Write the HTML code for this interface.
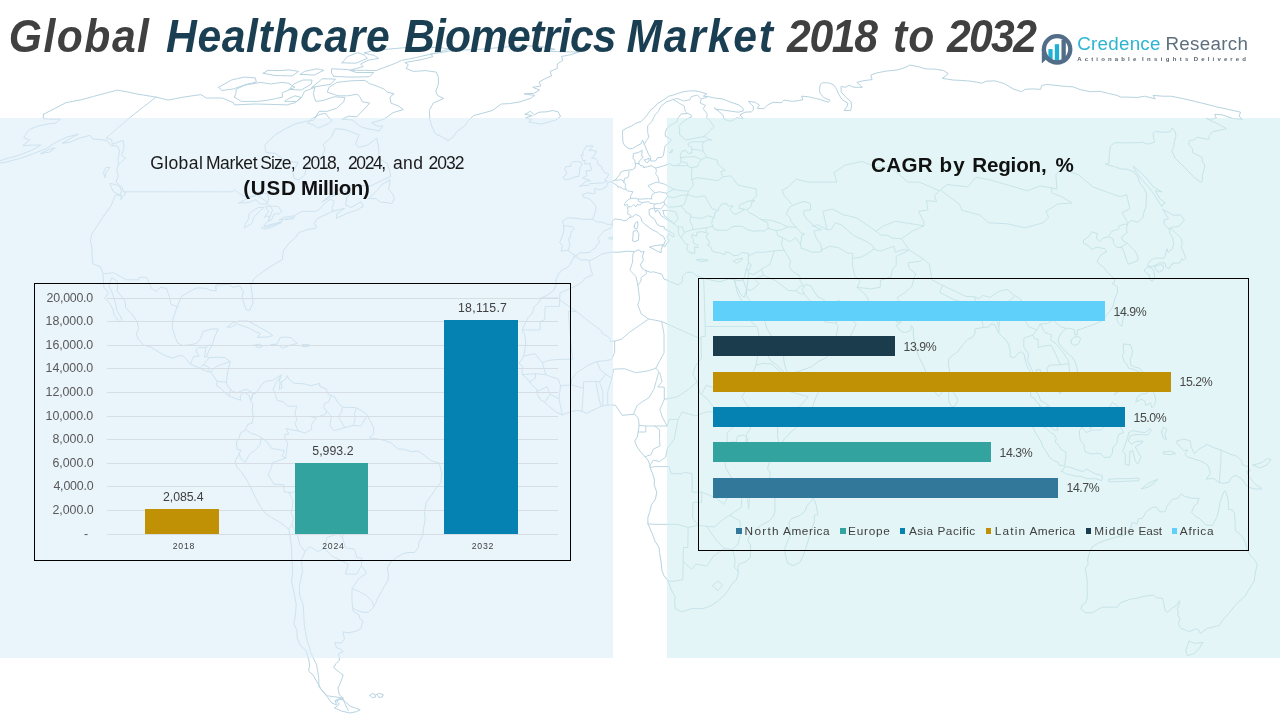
<!DOCTYPE html>
<html lang="en">
<head>
<meta charset="utf-8">
<title>Global Healthcare Biometrics Market 2018 to 2032</title>
<style>
html,body{margin:0;padding:0;}
body{width:1280px;height:720px;position:relative;overflow:hidden;background:#fff;font-family:"Liberation Sans",sans-serif;color:#404040;}
.abs{position:absolute;}
.panel{position:absolute;top:117.5px;height:540.8px;}
#pl{left:0;width:613px;background:rgba(220,237,248,.6);}
#pr{left:667px;width:613px;background:rgba(208,238,240,.6);}
.w{position:absolute;white-space:nowrap;display:block;}
.box{position:absolute;border:1.15px solid #000;box-sizing:border-box;}
.grid{position:absolute;left:107px;width:451px;height:1px;background:#d7dee3;}
.bar{position:absolute;}
.sq{position:absolute;width:5.6px;height:5.6px;top:528.4px;}
#map{position:absolute;left:0;top:0;}
</style>
</head>
<body>

<svg id="map" width="1280" height="720" viewBox="0 0 1280 720" fill="none" stroke-linejoin="round" stroke-linecap="round"><path d="M43.5 114.3 65.9 102.7 73.8 101.2 81.7 99.7 93.5 96.4 105.5 93.2 117.5 90.1 122.9 91.1 128.4 92.1 133.1 93.2 137.8 94.2 143.8 95.1 149.8 96.1 156.0 97.1 162.1 98.6 168.3 100.1 174.7 98.8 181.1 97.5 191.0 96.0 200.8 94.6 203.5 96.2 206.3 98.0 214.3 98.0 222.4 98.0 227.8 100.3 233.4 102.7 234.4 104.9 241.2 104.6 248.1 104.3 254.9 104.0 262.8 104.2 270.8 104.4 278.8 104.6 286.7 104.9 295.2 102.7 301.5 97.5 304.5 91.3 315.0 87.3 313.4 93.4 314.3 97.5 315.8 101.4 323.0 100.6 334.3 96.7 339.5 97.1 344.8 97.5 343.7 101.8 336.4 108.3 327.4 111.3 319.1 111.3 313.9 120.1 306.1 121.4 295.8 123.7 284.7 129.1 274.8 135.0 264.7 145.1 266.2 152.6 275.7 153.5 281.7 158.2 288.7 161.5 298.1 162.4 292.8 172.5 294.1 178.2 298.8 180.1 304.7 174.9 306.9 165.3 322.4 155.8 325.2 148.8 323.1 144.6 331.3 137.2 335.3 128.7 340.2 129.1 345.1 129.6 349.3 131.1 353.5 132.7 359.1 135.0 355.5 144.2 359.1 147.4 367.6 145.1 376.6 138.1 378.7 147.9 379.1 158.2 383.2 161.0 387.5 163.8 389.4 170.1 390.7 176.3 382.7 180.1 370.7 185.9 364.0 185.7 357.4 185.4 351.5 185.7 345.7 185.9 334.0 192.8 321.6 202.1 331.6 196.7 338.5 194.0 345.4 191.3 351.1 192.8 346.8 197.7 345.6 205.0 351.0 207.5 361.1 201.6 363.2 206.5 357.2 209.9 346.9 213.4 336.4 218.3 336.7 213.9 344.7 208.4 333.8 210.9 324.2 215.3 317.9 218.3 314.1 223.3 316.3 226.3 315.5 228.3 309.1 229.2 298.4 232.7 295.4 237.7 289.1 243.2 283.4 250.7 282.2 259.7 276.2 263.2 270.2 266.8 263.5 271.3 254.4 278.3 250.7 285.3 252.4 295.4 253.0 302.9 249.7 310.4 246.3 309.9 244.7 305.4 242.1 297.4 243.4 291.4 239.5 285.8 232.7 287.3 229.3 284.3 220.6 284.8 215.8 285.3 216.1 290.9 210.7 290.4 205.6 288.3 197.2 287.8 191.5 290.4 181.5 296.4 177.3 306.4 173.0 319.0 172.3 327.5 175.4 337.6 177.7 343.1 183.0 345.6 189.7 344.6 196.4 343.6 200.6 338.6 203.0 331.5 211.7 329.0 218.2 329.0 214.8 336.6 212.3 345.1 209.6 349.1 206.4 356.6 209.8 357.7 218.6 357.2 225.1 357.7 230.3 361.7 227.7 371.7 226.3 381.8 228.1 386.8 232.3 391.3 237.5 392.8 242.5 390.3 246.5 389.3 253.4 393.3 250.8 400.8 248.9 395.3 244.2 392.3 240.0 395.8 240.7 400.3 235.0 398.3 229.4 395.8 226.0 393.8 220.9 388.3 216.7 385.8 217.1 381.3 210.9 372.2 204.9 370.7 198.5 367.7 190.5 364.2 183.6 356.1 179.3 355.6 172.4 358.2 164.1 355.1 158.0 351.6 150.8 347.1 143.7 345.1 138.1 339.1 136.3 334.0 138.7 328.5 137.0 321.5 131.9 314.0 125.6 307.9 125.2 301.4 121.5 296.4 117.3 291.4 117.6 281.3 111.7 277.8 108.9 285.3 112.7 293.9 115.3 302.9 117.3 311.4 120.6 316.5 122.0 320.5 119.5 322.0 114.3 315.5 112.8 308.9 109.0 302.4 104.7 297.9 108.7 292.9 103.9 287.3 103.3 278.8 102.9 273.3 100.4 266.8 92.8 263.7 92.0 253.7 92.1 247.7 90.4 241.2 91.7 234.2 96.9 226.3 103.4 216.3 111.2 205.5 115.5 194.7 121.5 195.7 120.8 199.6 125.8 192.8 123.8 191.8 121.7 186.9 116.1 182.1 118.3 175.8 116.7 170.1 118.6 164.3 118.0 159.1 119.6 151.2 117.5 146.0 110.8 145.6 107.4 140.9 101.0 139.5 92.7 139.0 90.0 135.4 79.6 138.1 69.6 142.3 62.1 143.2 78.3 134.1 66.6 137.2 54.3 143.2 46.1 148.8 33.5 153.5 20.7 158.2 7.1 161.9 -1.5 163.3 -10.1 164.8 4.9 159.1 18.5 155.4 31.8 150.2 40.7 145.1 32.4 145.1 22.9 145.6 29.6 140.0 23.7 137.7 26.8 132.7 29.3 129.6 38.3 126.0 49.2 123.7 55.6 123.2 60.3 119.2 53.5 119.2 48.3 119.0 43.2 118.7 43.5 114.3ZM448.2 140.4 441.0 136.3 435.2 133.6 431.7 126.0 429.8 119.2 429.3 110.5 433.2 103.1 443.8 98.4 437.4 95.4 435.9 91.3 438.4 84.0 438.4 77.1 436.3 72.1 431.1 71.4 425.8 70.6 419.6 71.0 413.4 71.4 409.7 69.9 406.1 68.4 408.3 64.7 404.9 62.5 413.5 61.0 422.0 59.5 427.6 58.0 433.1 56.5 430.3 54.2 436.9 53.1 443.4 52.1 449.9 51.0 456.3 50.0 462.6 49.9 468.9 49.8 475.2 49.7 480.9 49.2 486.7 48.7 492.4 48.2 498.0 47.7 503.7 47.2 509.3 46.7 515.6 46.4 521.9 46.1 528.1 45.8 534.0 46.2 539.8 46.6 545.7 47.0 550.4 48.2 555.1 49.4 549.3 50.3 543.5 51.2 550.6 51.4 557.6 51.6 564.7 51.8 572.1 51.9 579.4 52.1 574.2 53.6 568.8 55.1 561.4 56.5 562.9 60.3 557.3 64.0 557.2 68.4 550.2 71.4 551.6 75.9 546.5 77.9 539.1 82.0 540.9 86.0 532.7 87.3 539.6 90.1 533.8 93.4 529.0 93.6 524.1 93.8 529.4 94.6 534.7 95.4 530.7 98.4 525.3 100.1 519.9 101.8 514.8 102.7 509.6 103.6 501.3 104.0 492.3 110.5 483.0 113.1 473.6 115.6 468.3 120.5 464.5 126.0 457.1 131.4 453.0 137.2 448.2 140.4ZM379.0 130.9 382.9 126.0 376.7 126.0 371.7 122.8 377.9 121.0 384.0 119.2 393.1 112.6 403.3 109.6 398.8 106.2 394.8 104.6 390.9 103.1 390.0 97.1 394.0 93.8 387.3 92.1 383.7 88.9 380.2 87.5 376.7 86.0 373.1 84.8 369.5 83.6 364.8 80.4 357.7 80.6 350.7 80.8 343.8 81.6 336.9 82.4 329.0 87.3 327.3 92.1 330.9 93.4 334.5 94.6 338.1 95.8 342.9 95.8 347.7 95.8 357.1 94.2 359.9 96.7 362.5 101.8 369.7 103.1 362.9 110.5 356.7 116.9 348.9 116.1 341.7 119.2 347.3 119.6 352.9 120.1 358.3 125.0 362.1 127.3 369.6 129.1 374.3 130.0 379.0 130.9ZM234.5 97.1 237.9 99.3 241.3 101.4 249.4 101.4 257.5 101.4 263.0 100.8 268.5 100.1 275.6 98.6 282.6 97.1 282.2 92.9 294.8 87.3 291.6 85.2 288.5 83.2 281.8 82.4 276.2 83.2 270.7 84.0 265.5 83.2 260.4 82.4 252.5 83.8 244.5 85.2 236.2 89.3 235.8 93.4 234.5 97.1ZM218.6 87.3 222.1 90.5 227.9 89.7 233.6 88.9 245.0 84.8 256.3 82.0 255.3 77.9 249.8 77.5 244.3 77.1 237.9 78.5 231.5 80.0 218.6 87.3ZM350.0 70.3 357.3 70.3 364.7 70.3 370.3 70.5 376.0 70.6 385.9 66.9 395.6 63.2 401.6 60.3 408.6 59.0 415.4 57.7 422.8 55.9 429.9 54.5 437.7 52.4 443.5 50.7 449.2 49.1 444.7 48.4 440.3 47.6 435.1 47.5 430.0 47.4 424.9 47.3 419.6 47.3 414.4 47.3 409.1 47.3 402.2 47.9 395.3 48.5 388.3 49.1 380.6 49.9 372.9 50.6 364.0 53.0 369.0 54.2 374.1 55.4 376.3 56.7 378.5 58.4 373.3 59.3 367.9 60.3 360.6 64.0 363.2 66.6 356.7 68.4 350.0 70.3ZM342.1 62.8 349.0 63.0 355.8 63.2 367.4 58.4 365.7 56.4 364.0 54.8 360.8 53.7 357.7 52.7 347.6 56.5 342.1 62.8ZM333.9 76.3 339.6 76.6 345.4 76.9 351.1 77.1 357.3 77.0 363.4 76.9 369.5 76.7 373.9 72.5 368.0 72.5 362.1 72.5 356.2 72.5 352.0 71.0 348.0 69.5 342.5 69.3 337.0 69.0 331.5 68.8 331.5 73.2 333.9 76.3ZM263.3 73.2 269.0 74.4 274.8 75.5 280.7 75.6 286.5 75.8 292.3 75.9 298.6 71.4 293.8 70.6 289.1 69.9 284.1 70.3 279.2 70.6 273.6 70.5 268.0 70.3 263.3 73.2ZM300.3 74.4 307.2 74.7 314.2 75.1 323.7 70.3 320.3 69.5 316.9 68.8 310.7 70.1 304.5 71.4 300.3 74.4ZM311.9 87.3 321.1 85.8 330.3 84.4 335.6 79.2 328.9 78.9 322.3 78.7 311.9 87.3ZM289.4 89.3 295.2 89.7 301.1 90.1 311.3 84.0 312.0 80.0 307.4 80.0 302.9 80.0 293.8 84.0 289.4 89.3ZM285.0 101.4 290.7 101.4 296.4 101.4 301.5 97.5 295.0 95.8 286.6 99.7 285.0 101.4ZM308.1 123.2 313.7 125.0 318.3 128.2 328.3 123.7 332.2 120.5 328.0 116.9 325.7 113.5 320.0 114.3 311.1 119.2 308.1 123.2ZM368.8 198.6 375.8 198.6 380.5 202.1 386.3 202.6 391.8 203.5 394.4 199.1 392.9 194.2 388.7 189.3 390.1 179.7 382.0 184.5 376.6 190.8 368.8 198.6ZM120.2 195.2 114.1 192.3 111.4 187.9 109.9 183.5 116.0 184.5 119.8 186.9 121.7 190.8 120.2 195.2ZM104.9 177.3 103.4 172.5 106.1 167.2 110.1 167.7 106.0 172.5 104.9 177.3ZM40.8 153.5 49.6 152.1 55.1 147.9 49.2 149.3 40.8 153.5ZM227.6 327.0 232.1 323.0 239.0 321.0 247.6 321.0 253.7 324.0 259.7 327.5 267.0 331.5 272.9 335.6 267.1 337.1 257.5 337.3 260.2 333.5 254.8 331.5 248.8 328.0 241.3 325.5 237.3 323.5 231.5 327.0 227.6 327.0ZM271.0 344.6 277.2 344.1 280.1 337.6 284.5 337.1 291.0 337.6 297.3 343.6 290.2 345.1 282.4 348.1 279.2 345.6 271.0 344.6ZM253.9 345.1 259.7 344.1 262.9 346.6 258.0 347.6 253.9 345.1ZM302.5 344.6 309.0 344.6 308.4 346.6 302.3 346.6 302.5 344.6ZM253.4 393.3 256.1 393.3 261.9 384.3 265.7 381.3 272.8 380.3 281.6 374.7 279.1 378.7 280.1 382.8 279.2 389.3 282.0 387.8 281.0 382.3 286.2 378.7 287.3 375.7 288.8 379.2 294.2 383.3 304.3 383.8 310.8 385.8 319.8 383.3 319.6 386.3 326.1 388.8 328.1 394.3 334.7 396.8 337.5 402.3 343.1 407.4 352.0 407.4 356.4 407.9 362.9 411.4 367.3 415.4 369.4 419.4 373.7 428.0 373.7 433.5 369.2 438.0 373.6 438.5 380.3 439.5 384.8 440.5 391.4 443.0 398.2 449.1 402.6 449.1 411.5 451.6 418.2 451.1 424.9 455.6 430.7 460.6 439.2 463.1 441.6 472.7 441.0 482.2 435.9 488.7 431.7 494.8 426.3 502.3 424.6 511.3 425.1 519.9 423.5 528.4 422.7 535.4 418.9 542.5 418.4 547.5 414.5 552.5 408.0 552.5 402.5 554.0 396.3 557.5 390.3 562.5 387.5 567.6 388.5 575.1 388.0 580.6 384.1 586.7 380.9 592.7 377.4 598.7 375.4 603.7 373.2 607.7 368.3 612.3 362.4 612.3 355.6 609.8 352.7 607.7 353.4 611.3 359.4 615.3 359.8 618.8 362.8 620.8 361.0 628.3 356.0 631.3 348.1 632.8 342.9 631.8 344.5 638.8 341.1 643.3 334.6 642.3 336.5 647.7 341.0 649.2 343.1 651.7 338.5 653.7 339.5 660.1 336.0 663.6 333.6 667.5 339.4 672.4 343.1 674.9 341.9 678.8 339.6 684.7 338.0 688.1 339.3 694.8 343.2 698.2 339.2 698.7 335.2 700.6 336.6 704.9 331.9 703.0 327.8 697.7 321.4 689.5 316.5 681.2 313.0 674.9 308.6 671.0 309.6 665.1 308.8 660.1 305.9 650.2 300.5 645.7 297.1 637.8 296.8 630.3 293.9 623.8 295.0 617.8 295.7 611.8 296.2 603.7 294.5 595.2 293.0 587.7 291.5 581.6 292.6 573.6 292.3 565.1 291.7 555.0 291.6 547.5 290.4 538.4 288.9 529.4 284.1 525.4 278.4 521.4 271.4 517.4 265.7 513.8 260.2 506.3 255.4 497.3 251.2 488.7 247.2 480.7 242.4 473.2 236.8 467.1 235.2 460.6 238.6 454.6 241.1 450.1 237.1 449.6 236.5 442.0 239.5 437.0 240.5 433.0 245.4 430.0 247.8 424.4 251.8 423.4 253.3 417.4 252.2 409.4 252.9 403.9 250.8 400.8ZM343.1 699.6 346.0 702.5 350.4 706.3 360.2 709.7 356.6 711.6 350.0 713.0 341.6 711.1 334.3 707.8 337.3 706.3 339.2 703.9 336.4 700.6 339.7 699.6 343.1 699.6ZM369.9 695.3 372.2 693.4 375.4 694.8 375.3 697.2 372.5 697.7 369.9 695.3ZM376.8 694.3 379.8 693.4 383.4 694.8 382.1 697.2 378.7 697.2 376.8 694.3ZM525.1 114.3 530.3 111.3 534.3 114.8 539.0 112.2 546.8 111.8 552.7 110.5 558.1 111.8 560.5 116.5 555.7 120.1 547.8 122.3 541.3 124.1 535.6 123.2 528.8 121.9 531.7 119.6 525.8 117.8 532.4 115.6 525.1 114.3ZM573.7 257.2 576.2 256.7 581.5 260.2 586.1 259.7 589.8 260.7 595.8 257.7 602.6 253.7 610.9 252.2 619.2 252.2 627.6 251.2 634.2 251.7 639.2 249.7 641.2 252.2 644.1 251.2 642.5 256.2 643.3 260.2 640.4 264.7 641.7 267.8 645.1 270.3 650.5 272.3 653.5 271.8 662.0 274.3 663.7 278.8 671.9 282.3 678.3 284.8 682.5 281.8 682.3 276.3 686.4 272.3 692.7 272.3 695.8 275.3 703.6 278.3 712.1 280.3 719.9 281.8 724.5 280.3 729.0 278.8 734.6 279.8 735.9 286.3 736.5 289.9 738.5 295.4 742.3 301.4 745.6 307.9 750.4 316.5 751.9 322.5 757.3 327.5 758.4 331.5 759.1 338.6 760.2 343.6 764.7 346.6 768.1 355.6 770.5 360.7 776.4 364.7 782.3 370.7 786.3 374.2 786.9 378.7 791.5 384.3 796.8 383.3 803.3 381.3 812.1 379.7 821.3 377.2 822.0 384.3 819.1 390.8 815.7 397.8 812.8 405.9 808.5 414.4 801.9 421.9 796.6 427.0 790.0 433.0 784.3 439.0 779.8 445.5 776.7 449.1 773.5 453.1 771.3 458.1 768.5 464.6 767.6 469.1 770.2 472.2 769.6 479.7 771.7 487.2 774.7 489.7 774.9 499.8 775.0 509.8 773.5 516.3 769.3 520.9 761.7 524.9 757.2 528.4 750.0 535.4 747.6 540.0 750.5 545.0 750.6 552.5 750.4 557.5 745.9 561.5 739.3 564.1 737.8 567.6 738.4 572.6 736.3 580.1 731.8 584.1 728.5 589.7 724.8 594.7 718.5 600.7 712.8 604.7 706.0 607.7 700.9 608.8 692.5 608.3 681.9 611.8 677.3 609.8 675.3 608.8 674.6 601.7 675.1 596.7 671.5 590.2 667.8 580.6 664.0 575.6 661.9 570.6 661.2 562.5 659.5 552.5 659.1 547.5 655.2 541.5 652.2 533.4 647.9 523.9 647.9 517.4 649.7 512.3 651.4 504.8 655.4 499.3 656.8 492.2 654.1 484.7 654.6 480.2 652.4 473.2 650.2 467.6 649.8 464.6 648.0 460.1 644.4 456.1 640.0 451.1 636.9 446.5 634.7 441.0 637.3 437.0 638.2 432.0 639.1 425.4 638.7 420.9 637.8 417.4 634.7 414.4 632.0 414.4 626.7 414.9 622.3 415.4 619.2 410.9 615.6 405.4 610.8 404.9 604.6 405.4 601.0 406.4 597.9 407.9 593.5 409.9 586.3 413.4 582.4 411.4 577.9 410.4 571.3 411.4 562.4 414.9 555.8 411.9 547.9 405.4 544.8 402.3 540.4 399.8 537.4 394.3 537.0 389.8 531.8 384.8 529.6 381.8 526.2 377.7 522.3 374.7 522.0 369.7 522.9 366.7 519.1 363.2 522.3 358.7 524.2 354.1 525.4 346.6 525.6 340.6 524.5 334.0 522.5 332.0 523.1 327.5 526.0 321.5 528.3 317.5 532.4 313.0 534.4 306.4 538.5 302.9 541.4 297.9 547.9 294.9 553.7 290.4 556.1 284.8 556.0 279.3 558.9 273.8 562.1 269.8 566.0 268.3 569.4 265.7 572.3 260.2 573.7 257.2ZM813.3 497.3 816.1 504.8 817.9 514.8 814.3 515.3 814.4 521.4 812.4 527.4 809.2 537.4 806.0 547.5 802.8 556.5 799.8 562.5 793.1 565.6 787.7 563.1 785.5 555.5 784.6 548.5 788.1 540.0 790.6 534.9 789.6 527.4 789.0 522.4 791.8 518.4 798.0 516.3 800.8 514.8 804.9 511.3 807.3 505.3 811.0 501.3 813.3 497.3ZM575.9 255.7 572.2 253.7 567.9 250.2 561.2 251.2 562.4 245.2 559.7 242.7 562.3 236.2 564.0 230.2 563.6 224.8 562.3 221.3 567.8 217.8 575.8 218.3 583.8 219.3 592.6 219.3 594.9 213.4 596.0 208.4 595.8 205.5 592.8 202.6 591.0 200.1 587.2 198.1 583.4 197.2 582.4 194.7 587.6 192.8 593.3 193.7 595.3 193.2 594.4 188.8 596.4 188.3 597.4 189.8 601.7 189.3 606.1 186.9 607.9 182.5 611.3 181.6 615.2 180.1 617.2 177.7 619.6 174.9 620.4 172.5 623.1 171.0 628.7 170.1 632.5 169.6 634.8 168.1 635.5 165.7 634.8 160.5 633.0 158.2 633.4 153.5 638.2 152.6 642.2 150.2 641.5 155.8 643.3 156.8 640.7 159.6 638.9 161.9 638.5 163.8 640.0 165.3 643.7 166.2 643.4 167.7 647.5 166.7 651.2 165.7 655.7 168.1 662.4 166.2 669.7 163.8 672.8 165.7 676.5 165.7 680.8 162.9 680.9 159.6 680.2 155.8 681.7 151.6 685.6 150.2 688.1 153.5 691.7 153.0 691.9 147.4 688.4 145.6 688.2 143.2 692.4 141.8 698.8 141.8 704.1 141.8 707.4 140.0 711.7 140.0 707.2 138.6 705.2 136.8 700.0 137.2 693.1 138.6 686.1 140.0 683.1 137.7 679.7 135.0 679.5 129.1 678.6 126.0 682.7 122.3 687.4 118.7 691.6 116.9 690.3 114.3 687.5 113.5 681.2 113.9 678.2 117.8 676.5 122.3 670.9 125.0 667.0 128.2 665.2 132.7 665.4 136.3 669.3 138.1 671.6 140.4 668.9 142.8 665.1 146.0 664.3 150.2 663.4 155.4 662.0 157.2 657.6 157.7 655.5 161.0 650.7 161.0 650.6 157.2 648.4 154.0 646.9 150.2 644.3 144.2 642.5 140.0 641.1 143.7 638.2 145.1 632.8 148.4 629.2 148.8 624.6 145.6 622.9 141.8 622.7 137.7 622.5 134.1 622.6 130.5 627.2 127.8 631.4 126.0 635.9 123.2 641.4 121.4 645.1 117.4 648.4 113.5 650.0 110.5 654.5 107.0 657.0 104.0 661.1 101.4 665.1 98.8 668.8 96.2 673.5 95.0 678.0 93.4 683.5 91.7 689.7 90.9 695.1 90.9 699.3 91.7 706.7 93.8 703.3 96.2 708.8 96.7 714.5 98.0 722.1 98.8 731.0 102.3 738.8 104.9 743.0 108.3 743.3 110.9 738.3 112.2 731.5 111.3 722.9 110.0 716.1 109.2 714.2 107.9 719.2 111.8 722.9 114.8 724.1 119.2 730.3 121.4 734.3 119.6 736.3 117.8 743.3 118.7 740.0 114.8 745.0 112.2 751.5 111.8 753.4 110.0 753.2 106.2 748.3 101.4 755.3 102.3 759.5 105.3 757.2 108.3 763.9 108.7 767.6 104.9 773.2 102.3 781.5 102.7 783.8 100.1 792.4 101.4 798.5 100.6 803.0 99.7 801.5 96.2 808.1 96.7 815.3 98.4 820.7 99.7 828.4 102.3 830.0 100.1 823.5 97.5 819.9 92.9 819.4 89.3 820.3 84.4 822.4 82.8 828.5 82.8 833.5 84.8 836.6 89.3 838.9 94.6 842.3 99.7 847.8 103.1 847.0 106.6 844.1 110.5 850.7 110.5 851.7 106.2 850.9 101.8 846.3 97.5 841.2 92.1 841.0 86.5 845.3 87.3 849.2 85.2 854.0 87.3 862.4 87.3 856.8 82.4 862.9 80.8 867.5 80.2 872.1 79.6 870.8 75.1 876.9 72.9 881.9 71.9 886.8 71.0 892.1 70.5 897.4 69.9 900.7 69.0 904.0 68.0 907.0 66.6 909.8 65.1 918.2 66.6 925.2 68.8 930.6 69.0 935.9 69.2 943.6 70.6 948.3 73.6 945.7 75.9 942.1 78.3 947.5 79.2 952.9 80.0 960.9 80.4 965.9 80.8 970.9 81.2 976.6 82.2 982.3 83.2 986.1 81.2 990.5 81.0 994.8 80.8 1004.2 83.6 1014.0 89.3 1021.7 91.7 1025.0 89.3 1032.3 88.9 1040.7 89.3 1041.6 85.6 1046.8 84.4 1054.0 85.2 1061.3 86.0 1067.3 86.5 1073.3 86.9 1080.3 89.7 1090.4 91.7 1095.2 91.5 1099.9 91.3 1108.4 93.4 1117.0 95.4 1120.8 97.1 1127.2 97.1 1132.3 97.3 1137.4 97.5 1144.6 96.2 1155.2 98.8 1153.0 95.4 1162.9 96.2 1170.8 96.2 1181.9 98.4 1189.2 100.1 1196.6 101.8 1204.0 103.6 1217.2 107.0 1229.4 109.6 1240.6 112.2 1239.1 116.1 1242.4 119.6 1232.1 118.3 1222.1 114.8 1214.7 114.3 1216.3 117.8 1210.2 119.6 1206.0 118.3 1219.3 124.6 1226.6 128.7 1218.9 130.5 1213.1 131.4 1209.4 135.4 1208.7 139.5 1197.5 137.2 1193.6 140.0 1189.9 140.4 1188.5 144.2 1192.4 148.8 1192.7 152.6 1202.0 157.2 1202.5 161.9 1205.0 165.3 1203.6 171.0 1202.3 175.8 1202.4 180.1 1201.4 182.5 1194.1 177.3 1184.8 167.7 1175.1 158.2 1171.9 150.7 1173.7 146.5 1174.6 140.4 1176.0 136.3 1175.3 131.8 1172.2 127.8 1170.0 131.8 1163.6 132.3 1155.6 131.4 1152.9 133.6 1154.1 139.5 1154.5 142.3 1148.1 144.2 1142.7 142.3 1134.2 142.8 1125.3 142.8 1120.0 142.8 1114.6 142.8 1110.4 146.0 1109.6 151.2 1109.2 156.8 1109.0 162.9 1105.3 164.3 1114.6 166.7 1121.3 169.1 1126.9 169.1 1134.1 172.0 1137.9 177.3 1139.4 182.1 1144.5 189.3 1146.6 194.2 1146.2 200.6 1146.1 206.5 1143.9 212.4 1142.7 217.8 1137.6 222.3 1131.2 220.3 1127.5 223.8 1126.4 229.2 1127.1 232.7 1121.6 237.2 1122.6 240.2 1127.8 243.7 1134.4 250.2 1137.9 256.2 1137.9 260.7 1132.3 262.7 1128.3 264.2 1125.9 258.2 1124.3 252.7 1122.1 247.7 1116.5 247.2 1113.6 243.2 1112.9 238.7 1108.3 236.7 1103.2 238.2 1099.8 241.7 1096.3 238.2 1097.4 233.7 1091.9 231.7 1088.7 236.7 1083.5 240.2 1083.5 243.2 1089.3 246.2 1091.5 249.7 1096.7 247.2 1104.8 248.7 1106.5 251.7 1101.1 254.7 1097.7 259.7 1097.6 262.7 1103.7 267.3 1108.3 273.3 1113.6 277.8 1115.0 281.8 1112.1 283.3 1117.5 286.8 1117.4 292.9 1115.1 297.4 1113.1 306.4 1110.6 310.4 1107.1 314.5 1102.9 320.0 1097.8 323.0 1092.5 325.0 1087.5 326.5 1081.4 329.0 1077.2 330.0 1077.2 335.1 1074.9 334.6 1074.1 329.5 1068.2 328.0 1065.3 329.0 1061.2 333.0 1058.8 337.6 1058.1 342.1 1062.3 347.6 1067.5 353.6 1071.8 356.6 1075.2 361.7 1077.2 369.2 1077.7 374.7 1076.8 379.2 1072.7 382.8 1068.5 384.8 1067.4 387.8 1062.3 391.8 1059.4 393.8 1059.5 387.8 1057.0 384.8 1053.0 383.8 1050.4 379.2 1047.0 375.7 1040.6 373.2 1040.3 369.7 1036.3 369.7 1036.9 376.7 1033.9 382.8 1034.8 390.3 1038.6 394.8 1040.7 400.8 1045.2 402.9 1048.9 405.9 1052.2 409.4 1054.6 414.4 1054.3 419.4 1056.2 424.4 1058.1 430.0 1054.5 430.0 1049.1 426.0 1045.0 422.4 1042.3 416.9 1040.7 409.4 1039.5 404.4 1036.8 402.3 1033.9 397.8 1030.8 396.8 1030.5 391.8 1031.6 386.8 1031.4 379.2 1030.3 371.7 1027.2 366.7 1025.4 360.7 1024.1 354.1 1020.8 351.6 1017.9 353.6 1014.5 357.7 1010.0 356.6 1010.1 350.1 1008.5 344.1 1005.3 339.1 1002.0 336.6 998.4 332.5 996.5 328.5 994.7 324.5 990.7 324.0 988.9 327.0 983.4 327.5 979.9 328.0 974.9 329.0 975.0 333.5 972.8 337.1 967.4 339.6 963.5 344.1 957.7 351.6 952.8 355.1 948.7 358.7 948.3 364.2 949.7 371.2 948.4 379.2 948.4 385.3 945.1 389.8 942.1 392.3 938.7 396.3 934.5 391.8 932.6 386.8 929.5 379.2 926.5 374.7 924.3 367.7 921.3 361.7 918.7 356.6 916.3 349.1 914.3 341.6 913.2 334.0 913.5 329.0 911.4 325.5 910.6 330.5 905.6 332.5 901.2 331.5 896.2 325.5 901.5 322.0 896.8 322.0 893.4 319.0 888.9 316.5 886.3 312.5 883.8 309.4 875.3 310.4 864.6 310.9 858.0 309.9 850.5 308.9 843.9 307.4 842.1 302.4 838.8 300.4 833.5 302.9 827.1 302.9 822.4 298.9 817.9 296.9 814.4 291.9 811.3 286.3 806.0 284.3 804.1 286.8 802.2 289.4 804.4 294.4 808.2 298.9 812.4 302.9 813.4 308.4 816.3 312.5 816.0 308.4 817.5 305.9 819.6 309.9 819.0 314.0 823.1 316.0 830.4 316.0 835.5 309.9 838.9 305.4 840.5 312.5 844.3 317.0 850.5 318.5 856.2 324.0 853.2 330.5 851.3 334.6 848.8 341.6 843.4 346.6 837.9 349.1 832.8 351.6 825.3 358.2 818.0 361.7 811.6 366.7 805.1 369.2 794.2 372.7 788.1 373.2 786.2 370.2 784.2 362.7 783.4 355.1 779.2 347.6 775.4 341.6 770.8 335.1 767.0 329.0 764.9 321.5 759.0 315.0 755.6 307.9 749.5 299.9 746.3 295.9 746.7 288.9 744.2 297.4 741.1 294.9 736.8 286.8 735.9 286.3 734.6 279.8 739.8 280.8 743.1 279.8 744.5 276.3 745.5 272.3 747.2 266.8 748.5 262.7 748.1 257.7 748.9 253.2 746.0 253.2 742.1 252.2 738.7 255.2 733.7 255.7 729.3 252.7 725.9 251.7 724.5 254.7 719.3 252.7 715.6 252.2 712.2 251.2 711.1 247.2 707.2 244.7 709.6 243.7 708.6 239.7 706.4 238.7 706.3 235.7 708.6 233.7 706.4 232.7 701.9 231.7 697.0 232.2 696.5 236.2 693.1 235.2 692.6 233.7 691.6 236.2 693.4 239.7 693.1 242.7 697.8 245.2 697.9 247.7 694.5 246.7 694.7 249.7 694.9 253.7 692.3 252.2 691.6 254.2 689.8 251.7 688.6 252.2 686.7 248.2 688.2 244.7 685.8 244.2 684.0 241.7 681.8 238.7 678.8 234.7 678.2 230.2 678.5 227.3 674.3 224.3 670.2 221.3 665.7 218.8 660.8 215.3 659.1 211.4 657.1 209.9 655.5 212.4 654.3 208.9 654.7 207.9 649.1 209.4 649.2 213.9 650.4 216.3 654.4 218.8 657.0 224.3 660.2 226.3 664.3 226.8 664.3 228.8 668.1 230.7 672.6 233.2 674.8 235.7 672.8 236.7 668.6 233.7 667.0 237.2 669.2 241.2 666.8 243.2 664.8 246.7 663.5 246.2 664.3 243.2 665.5 240.7 663.3 236.2 660.0 234.7 657.5 232.2 652.2 229.7 648.9 227.3 644.8 224.3 642.0 221.3 641.2 218.3 639.2 215.8 635.6 214.4 632.8 216.8 630.0 217.3 626.3 220.3 623.9 220.8 621.5 219.8 617.9 219.3 615.1 218.8 612.2 221.3 612.5 224.8 611.6 227.3 608.3 229.2 603.4 231.2 602.5 232.7 599.1 236.7 597.8 238.7 599.7 242.2 596.7 244.7 595.8 247.7 591.9 250.2 590.2 252.2 586.0 252.7 580.2 252.7 575.9 255.7ZM717.2 230.2 722.1 230.2 727.4 230.2 731.2 227.3 735.1 226.3 742.0 226.3 747.7 229.7 753.9 231.2 760.0 230.7 764.1 231.2 768.2 228.3 767.8 222.8 762.6 220.3 759.1 218.3 753.9 214.9 749.6 212.9 746.4 209.9 750.1 207.5 751.4 205.5 751.7 202.6 755.0 200.6 750.7 201.1 748.0 201.1 744.3 203.0 739.5 205.0 739.1 208.4 745.2 209.4 741.1 211.4 737.0 213.9 733.8 213.9 729.7 209.4 733.3 206.0 728.5 206.0 726.7 203.5 721.6 204.0 719.2 207.5 718.3 210.4 714.9 212.4 714.4 216.3 712.3 219.8 711.8 223.3 713.4 228.3 717.2 230.2ZM801.3 248.2 806.6 250.2 812.3 252.2 818.5 252.2 822.1 251.2 820.5 243.7 817.3 239.7 815.5 236.2 813.8 231.2 816.8 230.2 821.6 229.7 814.0 226.3 811.4 223.3 807.6 220.3 803.6 213.9 804.1 210.4 810.8 209.9 810.2 203.5 805.0 201.6 801.2 202.1 795.0 204.5 790.3 206.5 787.2 211.4 786.5 214.4 790.4 218.3 790.9 221.3 795.0 226.3 798.4 229.7 801.5 233.2 804.9 234.2 801.5 235.7 801.4 240.2 800.3 244.2 801.3 248.2ZM579.5 186.4 583.1 185.4 588.1 185.4 590.2 183.5 594.8 183.5 598.6 183.0 602.8 183.0 607.2 181.1 604.6 179.7 607.0 177.7 608.7 173.9 604.2 172.5 603.6 170.1 601.8 169.1 601.6 166.2 598.3 164.8 597.2 160.5 595.2 158.2 591.5 158.2 593.9 155.8 596.5 151.2 591.1 150.2 588.9 150.7 592.1 147.4 593.0 146.0 586.1 146.0 584.7 149.3 582.6 151.6 583.0 155.4 580.8 154.9 582.3 158.2 582.7 161.0 585.4 160.1 584.3 163.8 588.4 163.8 590.3 163.3 590.0 166.2 591.8 167.7 590.8 170.5 585.9 171.0 586.4 173.4 586.6 175.8 582.3 177.7 585.9 179.2 589.7 180.1 590.4 181.1 585.8 181.1 582.4 184.5 579.5 186.4ZM578.2 176.3 573.6 177.3 569.6 179.2 564.6 179.7 563.0 177.3 566.3 174.4 566.7 171.5 564.6 170.1 565.8 166.7 571.0 166.2 570.6 163.8 572.6 161.9 576.4 161.5 580.4 161.9 582.0 164.8 579.8 167.7 579.5 171.0 579.6 173.9 578.2 176.3ZM649.9 247.2 654.4 245.7 663.1 244.7 661.1 249.7 661.2 252.7 657.4 251.2 649.9 247.2ZM632.6 240.2 633.1 235.2 633.1 231.7 636.7 230.2 638.8 233.7 638.4 240.2 635.9 241.2 633.4 241.7 632.6 240.2ZM634.3 226.3 635.2 223.3 637.6 221.3 638.0 225.3 636.8 229.2 634.7 228.3 634.3 226.3ZM696.4 259.7 700.6 259.2 708.2 260.2 704.9 261.2 700.7 261.5 696.4 259.7ZM733.3 261.2 736.1 259.7 742.7 258.0 740.5 261.2 736.4 263.2 733.3 261.2ZM608.8 238.2 612.2 236.7 612.5 239.2 610.0 239.2 608.8 238.2ZM644.4 160.1 649.2 158.2 648.9 161.5 646.7 162.9 644.4 160.1ZM669.8 152.6 672.5 149.3 672.0 152.1 669.8 152.6ZM1133.2 166.2 1140.9 172.5 1147.8 179.7 1153.3 186.9 1162.1 191.8 1155.2 190.8 1160.1 199.1 1165.5 203.0 1163.4 204.0 1161.9 206.5 1157.0 199.1 1152.4 191.8 1146.3 184.5 1139.8 177.3 1135.2 170.1 1133.2 166.2ZM1168.8 228.8 1171.5 227.3 1179.0 226.3 1184.4 219.8 1180.5 214.9 1173.6 215.3 1162.7 209.4 1168.5 218.8 1163.9 219.8 1164.4 224.8 1168.8 228.8ZM1171.2 228.8 1176.6 233.7 1181.4 238.7 1182.3 244.7 1180.9 246.2 1183.5 252.2 1185.8 257.7 1183.2 260.2 1181.7 258.7 1180.1 262.7 1177.4 263.2 1172.4 263.2 1172.5 264.7 1170.2 265.2 1169.4 268.8 1165.7 266.8 1165.2 263.2 1159.6 262.7 1156.2 264.7 1153.4 266.3 1148.3 266.3 1147.6 264.2 1150.4 260.7 1154.3 258.2 1159.7 258.2 1163.9 258.2 1165.0 256.2 1166.0 252.2 1166.9 248.7 1168.1 252.2 1172.1 249.2 1173.6 244.7 1172.9 238.2 1169.8 233.2 1169.6 230.2 1171.2 228.8ZM1148.1 266.8 1152.0 268.3 1154.0 271.3 1154.7 277.8 1152.6 281.3 1149.9 279.8 1148.9 274.8 1145.5 272.3 1144.1 269.8 1146.1 268.3 1148.1 266.8ZM1154.6 266.3 1159.1 264.7 1163.1 265.2 1163.4 268.3 1163.1 269.8 1159.0 272.3 1155.9 269.8 1154.6 266.3ZM1121.3 309.9 1124.0 312.5 1123.1 319.0 1121.8 326.5 1118.1 322.5 1116.9 318.5 1119.3 312.5 1121.3 309.9ZM1071.0 340.6 1074.0 337.1 1078.7 336.6 1080.7 338.6 1078.8 343.6 1075.2 345.6 1071.4 343.6 1071.0 340.6ZM1123.5 344.1 1130.5 344.6 1132.4 350.6 1132.2 355.1 1130.1 358.7 1130.9 365.2 1135.1 367.2 1139.6 368.2 1142.6 371.7 1142.4 373.7 1137.7 371.2 1134.5 369.7 1128.6 368.2 1126.9 364.2 1124.4 362.2 1122.2 355.6 1124.0 353.1 1123.3 348.6 1123.5 344.1ZM1135.9 401.8 1137.0 397.3 1142.1 393.8 1146.5 393.8 1150.5 387.8 1154.5 394.3 1155.8 400.3 1154.7 404.9 1151.8 407.9 1150.6 402.9 1145.9 405.4 1144.7 400.8 1141.5 399.3 1135.9 401.8ZM1114.3 394.8 1119.6 387.8 1123.3 380.3 1122.9 384.8 1118.5 391.8 1114.3 394.8ZM1143.8 374.2 1148.2 374.2 1150.7 380.8 1149.0 385.8 1146.8 385.8 1144.9 380.3 1143.8 374.2ZM1134.0 377.7 1139.0 379.2 1141.0 384.8 1139.7 390.8 1137.3 387.8 1135.2 384.3 1134.0 377.7ZM1082.0 427.0 1089.4 423.9 1090.0 429.5 1096.9 420.9 1101.2 413.9 1105.5 411.9 1108.0 408.9 1112.5 402.3 1117.1 405.4 1120.0 408.4 1124.1 410.9 1119.8 414.9 1117.2 416.9 1118.2 421.9 1119.2 426.0 1123.8 432.5 1119.0 434.0 1117.2 439.5 1117.1 443.0 1112.6 448.0 1112.4 453.1 1110.1 457.1 1104.3 457.6 1101.3 454.1 1096.9 453.1 1091.6 454.1 1085.0 451.6 1083.8 444.5 1080.4 440.5 1079.5 435.5 1079.4 431.0 1082.0 427.0ZM1018.1 408.9 1023.5 410.9 1027.9 410.9 1031.6 415.4 1033.9 418.4 1038.4 421.9 1041.6 426.0 1046.1 428.0 1050.6 432.5 1054.2 434.5 1056.4 438.5 1055.0 442.0 1059.4 446.0 1060.6 449.1 1065.9 452.1 1065.8 457.1 1064.5 466.1 1059.3 465.1 1057.7 462.1 1053.7 460.6 1049.4 457.1 1045.9 451.1 1042.9 447.0 1041.3 442.0 1038.3 437.0 1035.0 432.0 1033.6 428.0 1029.1 424.4 1025.9 420.4 1021.4 415.4 1018.1 408.9ZM1061.6 471.1 1065.4 466.6 1069.8 467.1 1076.3 469.6 1082.8 471.7 1086.5 469.1 1091.7 471.7 1095.1 473.7 1102.5 475.7 1101.8 480.7 1095.7 478.7 1086.9 478.7 1080.4 476.2 1075.9 476.2 1071.6 475.2 1066.8 474.2 1061.6 471.1ZM1128.7 433.0 1132.2 430.5 1139.4 432.0 1145.1 432.5 1150.4 428.5 1151.3 430.5 1147.9 435.0 1141.6 434.5 1135.0 434.5 1130.1 436.0 1128.3 441.0 1131.8 444.0 1135.8 441.5 1142.9 441.0 1142.5 442.5 1137.0 445.5 1135.2 447.0 1138.6 453.1 1141.2 457.1 1139.7 460.1 1137.8 464.1 1135.3 461.1 1134.1 456.1 1132.5 450.6 1129.8 451.6 1129.6 457.1 1129.3 465.1 1125.3 464.6 1125.2 458.6 1125.7 454.6 1122.7 451.1 1124.6 446.0 1127.5 438.0 1128.7 433.0ZM1141.5 488.7 1148.5 483.2 1157.6 479.2 1155.2 482.2 1148.3 487.2 1141.5 488.7ZM1109.0 479.2 1117.8 478.7 1126.7 478.7 1139.1 478.2 1138.9 480.7 1126.5 481.2 1117.7 481.7 1108.8 481.7 1109.0 479.2ZM1161.6 432.0 1163.6 427.0 1166.8 429.5 1164.7 434.5 1166.5 439.5 1163.4 438.5 1161.6 432.0ZM1163.5 452.1 1170.2 451.1 1175.9 453.6 1170.1 454.6 1163.4 454.1 1163.5 452.1ZM1177.1 441.0 1183.8 439.0 1190.4 441.0 1191.1 447.0 1194.5 453.6 1199.1 449.1 1207.2 444.5 1214.6 448.0 1221.2 450.1 1230.0 454.1 1236.5 456.1 1242.1 461.1 1241.9 464.6 1248.0 466.6 1250.3 470.6 1246.7 471.1 1248.6 475.7 1252.6 481.2 1256.7 485.2 1262.1 488.7 1256.3 489.2 1249.8 487.7 1245.7 484.7 1241.7 478.7 1235.4 475.2 1230.7 478.2 1229.1 482.2 1223.7 483.2 1219.3 482.7 1213.0 478.2 1206.3 479.2 1210.2 473.7 1209.6 469.6 1207.3 464.6 1200.9 461.1 1194.3 459.1 1187.7 457.1 1184.7 454.1 1187.9 450.1 1183.5 450.6 1181.3 448.0 1177.0 443.5 1177.1 441.0ZM1253.0 465.1 1260.7 463.1 1267.5 458.6 1271.0 459.6 1267.2 464.6 1260.3 468.1 1253.0 465.1ZM949.4 387.8 955.0 394.3 957.9 400.3 955.4 405.4 951.5 406.9 949.1 401.8 948.4 395.8 949.4 387.8ZM1092.9 546.5 1099.2 542.5 1105.2 540.5 1115.3 537.4 1124.5 534.9 1130.9 527.4 1132.1 522.4 1137.1 523.9 1138.3 518.9 1142.3 518.4 1146.5 511.3 1152.6 507.3 1157.0 507.3 1159.6 511.8 1165.3 511.8 1166.8 506.3 1169.9 502.3 1172.5 499.3 1177.9 498.3 1181.1 493.7 1184.8 496.3 1192.0 498.3 1199.1 498.3 1197.1 503.8 1194.2 505.8 1191.6 512.3 1195.3 516.3 1199.4 518.4 1205.7 524.9 1212.6 525.4 1216.7 517.4 1218.8 509.8 1220.3 501.3 1223.6 492.2 1225.1 490.7 1227.5 496.8 1228.2 501.3 1228.5 509.3 1232.4 509.8 1234.5 513.3 1235.1 521.9 1235.3 530.4 1240.2 534.4 1243.1 537.4 1245.7 543.5 1247.0 549.0 1250.0 555.0 1253.5 558.5 1257.3 564.1 1255.3 572.6 1254.2 581.1 1248.4 590.2 1244.7 596.7 1238.1 602.2 1234.0 606.7 1229.3 612.8 1223.4 619.3 1219.4 625.3 1212.2 627.3 1207.5 628.3 1200.4 633.3 1198.5 629.8 1195.7 628.8 1189.3 631.8 1184.9 629.8 1180.7 628.3 1178.4 623.8 1180.0 617.8 1177.7 615.8 1178.2 611.8 1177.3 608.8 1179.7 602.7 1179.6 600.7 1176.0 605.7 1172.7 607.7 1167.6 612.3 1165.0 610.3 1163.7 602.7 1162.4 598.2 1156.3 597.7 1153.8 595.2 1144.1 596.2 1137.0 598.2 1130.3 599.2 1120.7 602.7 1117.0 607.2 1110.3 607.2 1102.3 607.2 1097.2 609.8 1092.0 612.8 1085.8 612.8 1081.0 609.3 1081.9 605.2 1085.7 602.7 1087.3 597.7 1087.1 589.2 1087.3 581.6 1086.5 576.1 1085.3 568.6 1088.1 564.1 1087.6 560.0 1090.0 550.5 1092.9 546.5ZM1189.1 641.3 1195.2 643.3 1203.1 642.3 1199.0 648.7 1193.9 653.7 1187.5 655.7 1185.7 650.7 1189.1 641.3Z" stroke="#b6d3e0" stroke-width="1"/><path d="M156.0 97.1 143.2 107.1 130.4 117.2 118.3 127.6 106.2 138.1 111.7 139.5 112.2 144.2 123.1 140.4 124.2 146.5 121.6 155.4 125.5 158.2 119.0 164.3M123.8 191.8 133.9 191.8 144.1 191.8 154.2 191.8 164.4 191.8 174.6 191.8 186.0 191.8 197.5 191.8 209.0 191.8 220.5 191.8 232.0 191.8 234.6 189.8 239.5 193.7 244.0 196.2 251.6 196.7 257.0 195.2 262.1 198.6 267.3 202.1 267.5 204.0 270.3 206.5 272.6 209.9 268.2 221.3 264.3 224.8 265.0 227.8 273.3 225.0 281.4 222.3 282.4 219.8 293.5 217.3 295.0 215.3 301.8 211.4 308.7 211.4 315.7 211.4 319.3 209.4 323.1 205.0 329.6 199.6 333.0 200.1 334.3 201.6 332.0 207.5 332.4 210.4 333.8 210.9M238.5 203.0 249.1 197.7 256.7 194.2 266.9 193.2 268.7 199.1 267.1 204.0 259.7 204.0 256.0 199.6 248.6 202.6 238.5 203.0M244.4 227.8 251.4 223.8 254.6 216.3 260.5 210.4 263.9 207.5 258.0 207.5 252.0 211.4 248.9 213.9 248.7 218.8 245.3 223.8 244.4 227.8M265.3 207.0 270.5 206.0 278.2 206.5 281.9 211.4 278.9 213.9 274.1 213.9 271.6 219.8 268.2 221.3 269.8 216.3 266.6 216.3 264.0 217.8 268.7 211.4 265.3 207.0M261.4 227.8 264.4 229.2 271.3 227.3 281.2 222.8 282.0 221.8 275.0 223.3 268.1 225.3 263.6 226.3 261.4 227.8M279.2 219.8 286.7 219.3 293.7 218.8 294.8 215.8 289.9 216.3 283.4 217.3 279.2 219.8M103.1 273.8 113.7 272.8 120.1 276.3 126.7 279.8 138.5 279.8 139.5 277.3 146.7 277.3 151.4 288.3 156.2 291.4 160.2 287.3 166.4 288.3 170.1 298.9 170.9 304.4 178.0 306.9M190.5 364.2 191.8 360.7 193.7 356.6 199.0 356.1 195.8 350.6 198.0 347.6 205.9 347.6 210.3 344.1M205.9 347.6 204.6 357.2 205.9 357.2M208.8 358.2 203.2 364.7 199.4 368.2M203.2 364.7 208.7 367.2 209.3 370.2M230.3 361.7 222.2 364.2 214.4 367.7 211.4 371.7M226.3 382.3 217.6 381.3M230.6 388.8 228.9 396.3M281.4 377.7 276.7 381.3 273.1 389.3 275.5 394.8 277.0 400.3 283.5 401.8 288.2 406.4 296.6 405.9 295.0 414.4 297.1 420.4 294.8 422.9 298.2 431.0 304.9 433.0 311.6 429.5 311.7 424.4 316.2 417.9 309.6 416.4 317.1 416.9 325.2 414.4 326.6 410.9 323.6 407.4 324.7 403.4 328.7 401.8 331.2 395.3M326.6 410.9 329.6 414.4 331.3 417.4 329.8 425.4 333.8 430.5 338.2 429.5 344.9 427.5 353.4 425.4 360.9 426.0 366.4 416.9M342.2 407.4 341.6 411.9 338.4 416.9 344.9 427.5M356.4 407.9 354.4 413.4 355.2 418.9 353.4 425.4M298.2 431.0 285.9 428.5 288.9 434.0 284.8 434.5 284.8 438.0 287.6 443.0 286.6 450.6 285.7 458.1 282.1 456.1 284.6 450.6 276.2 449.1 271.7 448.6 267.1 442.0 261.3 437.5 256.9 435.0 251.6 433.5 245.9 430.0M261.3 437.5 260.1 444.5 255.3 450.1 249.7 454.1 247.9 457.1 245.4 462.1 240.4 458.6 239.4 454.1M285.7 458.1 279.1 460.4 272.5 462.6 271.4 467.6 268.2 474.7 273.9 484.2 283.7 484.7 284.2 492.2 288.6 492.2 292.6 492.7 301.4 486.7 306.7 486.2 307.7 494.8 316.0 499.8 323.9 504.8 329.7 506.3 332.1 518.9 340.0 518.9 340.9 523.9 344.8 528.4 342.9 536.4 342.7 538.4 345.5 548.0 354.3 549.0 356.9 557.5 361.7 558.0 361.4 565.6 365.6 571.1 366.0 573.6 358.2 579.1 352.1 588.7 359.5 591.7 366.7 595.7 372.5 601.7 373.4 606.2M288.6 492.2 293.1 499.8 292.4 507.3 291.0 512.3 293.4 518.4 291.9 524.9 288.9 528.9M291.9 524.9 297.4 534.9 299.9 545.0 305.1 551.5 309.7 546.5 317.7 551.5 324.3 548.5 326.9 537.4 338.3 533.9 342.7 538.4M324.3 548.5 332.6 556.5 340.4 560.3 348.2 564.1 345.5 574.1 356.6 574.1 361.4 565.6M352.1 588.7 351.9 600.2 352.7 607.7M305.1 551.5 301.4 560.0 302.5 571.6 299.4 585.1 299.6 595.2 303.3 605.2 303.8 615.3 304.3 625.3 306.5 637.8 308.7 645.2 310.8 652.7 316.7 665.1 318.7 677.3 319.0 687.1 327.2 695.8 333.9 696.7 340.7 697.7 343.2 698.2M343.1 699.6 348.4 710.7M563.5 226.8 566.4 225.8 572.8 226.8 574.3 228.3 571.2 231.2 570.3 237.7 568.3 238.2 569.9 245.2 567.9 250.2M592.6 219.3 596.9 221.8 602.5 222.3 606.9 224.3 612.5 224.3M630.0 217.3 630.8 215.3 627.6 213.9 628.1 210.4 627.3 207.5 628.1 207.0 627.4 204.5 624.6 205.5 624.6 203.5 628.2 199.6 630.6 198.6 630.6 195.7 633.0 191.8 627.2 190.8 626.1 189.3 623.8 189.3 620.0 186.9 617.6 187.1 617.3 185.4 613.9 183.5 611.3 181.6M614.8 180.1 618.3 180.1 621.0 179.7 624.0 181.1 623.5 183.0 624.8 178.2 627.8 177.7 628.6 175.8 629.1 171.5M624.7 183.0 625.8 185.4 625.0 186.4 626.1 189.3M635.2 163.3 639.6 163.8M655.7 168.1 656.5 171.5 655.5 173.4 657.8 176.8 659.1 182.1 658.4 182.5 656.4 182.1 649.6 185.0 648.1 185.4 649.6 187.9 654.8 192.8 651.7 195.2 651.7 199.1 648.6 198.6 642.0 199.1 638.4 199.1 634.5 198.1 630.6 198.6M628.1 207.0 631.7 206.5 633.7 204.5 636.0 207.0 637.2 204.5 640.4 205.0 642.0 202.6 638.4 201.1 638.4 199.1M642.0 202.6 648.6 201.6 649.4 203.0 654.6 204.0 653.8 206.5 654.7 208.4M654.8 192.8 659.4 191.8 666.8 193.2 667.7 196.7 665.5 199.1 664.0 202.1 659.7 203.5 654.6 204.0M658.4 182.5 664.2 184.0 666.9 185.4 674.0 189.3 678.7 190.3 688.5 191.3 693.7 184.5 691.8 179.7 691.4 174.9 692.0 168.1 690.4 167.7 687.7 165.7 682.1 165.7 676.5 165.7M674.0 189.3 667.9 192.3 666.8 193.2M644.3 144.2 646.4 140.4 648.8 137.2 647.7 132.7 647.6 126.0 651.9 121.4 655.1 114.8 658.3 111.3 661.0 106.2 666.6 101.8 673.2 99.5 677.0 98.4 683.7 101.0 690.0 99.7 691.2 96.7 697.4 95.0 701.2 98.8 706.7 97.5 706.8 96.2M673.2 99.5 678.7 102.8 684.3 106.2 685.2 111.3 687.5 113.5M701.0 99.5 700.2 103.1 705.5 105.3 703.1 108.7 707.3 113.9 706.6 117.8 709.7 120.5 714.1 126.4 708.1 132.7 702.8 137.2M704.1 141.8 702.4 145.1 703.1 151.2 706.8 157.2 701.2 159.6 698.6 163.3 697.8 166.7 690.4 167.7M692.0 149.3 697.9 149.8 703.1 151.2M680.6 157.7 687.6 156.8 695.0 156.8 701.2 159.6M681.8 161.5 687.5 163.3 687.7 165.7M706.8 157.2 717.1 160.1 718.0 164.3 725.2 170.5 720.8 171.5 722.7 176.8 730.9 175.8 738.0 185.0 748.0 187.4 756.3 188.8 756.3 196.7 750.7 201.1M691.8 179.7 697.0 177.7 707.8 179.2 718.2 180.6 722.7 176.8M688.5 191.3 687.5 194.7 696.6 197.2 704.7 195.7 712.2 208.9 718.3 210.4M667.7 196.7 674.4 197.7 679.0 195.7 687.5 194.7 684.2 204.5 680.7 206.0 674.8 207.0 667.7 207.0 664.8 204.0 664.0 202.1M680.7 206.0 685.3 210.4 685.8 212.4 689.9 213.9 690.8 215.3 691.7 217.3 702.2 218.3 708.0 215.8 714.6 217.8M654.7 208.4 661.0 208.9 664.8 204.0M663.0 210.4 664.0 215.3 670.1 220.3 674.3 223.3M663.0 210.4 667.8 210.4 675.8 211.9 678.1 218.8 674.3 223.3M690.8 215.3 689.9 221.3 692.6 226.3 692.8 229.7M681.0 237.7 684.8 232.2 692.4 229.7 698.8 228.8 706.1 227.8 706.4 231.7M706.1 227.8 712.8 226.3M678.1 226.8 682.5 226.8 683.6 231.7 684.8 232.2M791.7 204.0 784.3 195.7 782.1 190.3 788.4 186.9 796.1 179.2 802.2 180.6 808.3 182.1 815.9 182.1 823.6 182.1 830.3 182.1 836.9 182.1 833.9 172.5 839.4 168.9 844.7 165.3 853.3 163.3 861.9 161.5 869.6 164.5 877.3 167.7 882.7 167.2 888.1 166.7 895.5 171.0 907.7 182.1 913.4 182.1 919.2 182.1 929.4 186.4 939.4 190.8 947.1 184.5 957.3 185.7 967.5 186.9 971.8 182.1 975.9 177.3 983.3 178.7 990.8 180.1 999.9 182.8 1009.1 185.4 1018.3 188.1 1027.4 190.8 1033.8 188.3 1040.2 185.9 1051.7 187.9 1056.8 189.3 1056.5 182.1 1055.8 174.9 1058.9 171.0 1065.8 170.1 1078.5 174.9 1092.8 186.9 1100.2 189.6 1107.7 192.3 1120.2 196.7 1126.7 194.7 1129.9 208.9 1122.0 212.4 1126.9 221.3 1127.4 224.3M941.4 190.8 950.3 197.4 959.3 204.0 961.9 210.4 970.7 212.6 979.6 214.9 988.7 222.8 998.0 223.3 1007.2 223.8 1016.1 225.8 1025.1 227.8 1034.1 225.3 1043.1 222.8 1048.6 217.3 1045.9 211.4 1051.9 207.7 1057.8 204.0 1065.0 203.5 1072.2 203.0 1061.6 196.7 1051.7 192.8 1051.7 187.9M939.4 190.8 934.4 195.7 936.6 201.6 926.4 200.6 927.9 209.9 918.5 211.4 923.7 221.3 923.9 225.8 918.1 228.5 912.2 231.2 906.8 235.0 901.3 238.7 909.4 250.2 923.1 258.7 929.5 264.7 931.9 279.8 942.4 285.3 949.4 288.6 956.4 291.9 965.7 296.4 974.8 296.9 979.0 298.9 982.7 295.4 990.3 297.4 999.0 291.4 1007.2 289.4 1014.3 295.4 1020.6 298.9 1022.4 307.4 1018.8 314.0 1025.4 320.5 1028.4 326.5 1036.8 330.0 1040.2 324.0 1047.9 323.5 1053.0 320.0 1060.1 326.5 1066.1 328.5M892.0 318.0 903.8 314.0 900.6 305.7 897.3 297.4 905.1 292.4 911.9 286.3 913.9 278.8 915.8 273.8 909.4 268.8 908.2 262.7 914.3 262.0 920.4 261.2 923.1 258.7M942.4 285.3 939.8 292.4 953.3 299.4 966.1 303.4 976.1 304.4 974.8 296.9M983.4 327.5 981.1 316.5 977.5 312.5 978.0 304.9 983.8 306.4 984.6 310.4 995.5 311.4 991.5 316.5 993.4 321.5 996.4 318.0 999.3 330.0 998.4 332.5M998.9 327.0 1000.5 316.5 1005.4 308.9 1006.4 302.9 1013.1 297.9 1014.3 295.4M1036.8 330.0 1032.7 335.1 1023.9 338.1 1023.7 346.6 1028.5 354.1 1027.6 360.7 1032.9 371.7 1034.9 379.2 1031.9 385.8M1032.7 335.1 1035.0 339.1 1038.0 339.1 1038.2 347.6 1043.3 346.1 1051.0 345.1 1055.7 354.1 1060.5 364.7 1049.1 365.2 1046.8 369.2 1049.8 378.2M1040.2 324.0 1045.0 332.5 1051.9 335.1 1050.4 340.1 1056.1 343.6 1062.9 352.1 1068.4 360.7 1068.8 363.7 1069.7 374.2 1063.5 378.2 1063.0 382.3 1057.0 384.8M1060.5 364.7 1068.8 363.7M1039.1 404.9 1043.7 408.4 1048.0 405.9M1082.0 427.0 1086.1 432.5 1092.7 430.0 1101.6 430.0 1105.9 424.4 1107.9 415.9 1117.2 415.9M1221.2 450.1 1220.9 460.9 1220.1 471.8 1219.3 482.7M1108.3 236.7 1112.0 231.2 1118.9 228.8 1118.7 226.3 1123.3 224.3 1127.4 224.3M1120.1 247.7 1124.5 244.7 1127.6 243.2M768.2 228.3 776.2 230.7 777.8 235.7 782.6 237.7 781.4 244.2 784.2 250.2 774.3 250.7 764.6 252.2 756.3 252.2 751.1 254.7 748.4 256.7M760.5 219.3 770.6 220.3 779.1 222.8 787.8 226.8 796.0 227.3M776.2 230.7 782.2 229.7 787.8 226.8M782.6 237.7 790.1 241.7 795.7 237.7 800.3 244.2M784.2 250.2 788.0 256.7 790.7 261.2 789.1 266.3 792.6 271.3 800.0 276.3 800.1 281.3 804.1 286.3M821.9 249.7 830.0 246.2 838.5 247.7 847.8 253.2 852.8 253.2 852.3 264.7 855.0 276.3 860.0 281.3 857.1 287.3 866.2 295.4 868.5 300.4 862.8 310.4M857.1 287.3 863.8 288.1 870.5 288.9 880.1 287.3 880.6 280.3 891.0 276.8 892.5 268.8 896.2 265.7 896.3 256.2 901.9 253.7 907.6 251.2M853.7 258.2 861.0 257.2 866.7 254.2 873.9 249.2 880.6 251.2 888.2 248.2 894.0 246.2 895.3 252.2 903.0 249.7 909.0 250.2M812.0 226.3 817.8 224.8 826.9 229.7 825.0 220.6 823.0 211.4 832.4 208.9 843.7 214.9 850.1 216.3 856.5 217.8 866.1 224.3 876.0 231.2 882.8 226.3 886.4 224.8 895.5 221.3 901.9 222.3 912.9 224.0 923.9 225.8M873.9 249.2 873.3 246.2 866.1 241.2 854.8 236.2 847.3 230.2 842.1 225.3 835.5 222.8 830.9 229.7 826.9 229.7M876.0 231.2 881.2 235.2 887.3 235.2 892.1 238.2 901.3 238.7M774.3 250.7 770.0 264.2 761.3 269.3 763.5 275.3 754.5 278.8 759.1 283.8 751.1 290.4 746.7 289.4M763.5 275.3 775.9 280.8 788.2 290.4 796.0 290.9 800.6 285.8 802.0 286.3M796.0 290.9 800.5 293.9 804.3 293.9M761.3 269.3 753.3 274.8 748.5 272.8 747.8 269.8M748.5 272.8 748.1 278.8 746.7 288.9M743.1 279.8 746.3 288.9M748.6 263.2 751.2 264.7 749.5 269.8 747.8 269.8 745.8 270.8M783.9 354.6 788.9 349.6 799.9 350.6 808.3 344.1 815.9 342.8 823.5 341.6 829.9 339.1 836.2 336.6 838.1 326.5 836.1 323.0 824.8 322.0 820.0 315.0M823.5 341.6 829.0 353.6M836.1 323.0 838.2 315.5 839.2 312.0M589.0 260.7 590.8 268.8 592.7 274.8 584.9 278.3 581.8 282.3 575.2 286.3 569.6 288.9 560.0 292.9 559.8 297.9 550.1 297.9 540.5 297.9M559.8 297.9 559.4 306.4 552.3 306.4 545.2 306.4 544.7 319.5 540.3 321.5 539.9 330.0 531.2 330.0 522.5 330.0M559.7 299.9 567.9 305.7 576.1 311.4 584.6 318.0 593.1 324.5 601.7 331.0 601.7 333.0 609.5 337.6 610.7 341.6 614.7 341.1 621.7 339.1 629.1 332.5 638.9 325.8 648.7 319.0 641.3 314.0 637.8 304.9 639.6 298.9 637.9 285.3 635.8 276.3 629.9 270.3 632.5 262.2 632.9 254.2 634.2 251.7M637.9 285.3 640.8 281.3 641.3 277.3 646.3 273.8 646.3 270.3M576.1 311.4 568.3 311.4 569.5 325.7 570.7 339.9 572.0 354.1 572.8 359.2 563.6 359.4 554.3 359.7 547.7 360.7 542.4 362.7 534.8 353.6 523.7 356.1M542.4 362.7 545.7 374.7 535.6 373.7 528.9 374.2 522.3 374.7M535.6 373.7 535.4 378.2 529.6 381.8M545.7 374.7 558.4 379.2 560.5 385.8 559.0 398.8 560.7 406.9 562.4 414.9M537.0 391.3 547.2 386.8 550.2 394.3 544.8 402.3M550.2 394.3 559.0 398.8M560.5 385.8 571.5 384.8 571.6 379.2 576.1 373.2 580.5 370.2 587.2 365.7 596.0 361.7 604.2 360.7 611.4 359.7 614.6 352.6 614.7 341.1M581.9 411.4 582.7 400.3 583.4 389.3 583.5 381.8 595.9 381.3 598.0 394.3 601.0 406.4M571.5 384.8 583.4 388.3M599.4 381.8 602.9 391.8 602.8 405.9M611.8 378.2 607.7 391.8 607.7 404.9M596.9 361.7 600.4 369.7 605.6 374.2 611.8 378.2 613.6 369.2 624.6 368.7 635.6 372.7 642.2 371.7 648.8 370.7 655.8 368.2 660.0 360.4 664.1 352.6 664.0 343.3 664.0 334.0 661.7 321.5 655.2 320.2 648.7 319.0M595.9 381.3 599.8 381.8 605.6 374.2M661.7 321.5 671.5 325.9 681.3 330.3 691.2 334.7 701.1 339.1 701.3 348.6 701.5 358.2 695.0 366.7 692.9 373.7 697.0 381.8 688.6 389.3 677.6 396.8 671.0 398.1 664.3 399.3M703.6 278.3 704.1 290.4 704.5 302.4 704.9 314.5 705.2 326.5 718.1 326.5 731.0 326.5 743.9 326.5 756.9 326.5M705.2 326.5 705.4 336.6 701.1 336.6 701.1 339.1M655.8 368.2 659.8 372.7 662.1 381.8 657.7 386.8 664.3 387.3 664.3 399.3 659.9 409.4 662.2 416.9 667.1 426.0 654.6 426.0 645.8 426.0 639.1 425.4M658.5 372.7 656.3 380.8 654.1 388.8 648.9 397.8 642.2 401.8 636.9 405.9 633.8 413.4M645.8 426.0 645.8 432.0 638.2 432.0M654.6 426.0 659.5 429.5 659.5 439.5 660.0 446.0 653.3 449.1 651.1 454.6 645.3 456.6M667.1 426.0 669.3 419.4 678.1 419.4 675.5 432.0 674.2 439.5 667.5 448.0 665.7 457.1 659.5 461.6 653.3 460.1 649.7 466.1M678.1 419.4 682.1 411.9 688.8 413.9 695.4 415.9 706.5 411.9 717.1 411.9 726.5 414.9 732.3 419.4 739.3 417.7 746.4 415.9 755.3 414.9 764.2 418.9 772.2 417.4 781.5 417.4 788.3 414.7 795.2 411.9 801.7 404.4 808.2 396.8 799.3 394.3 790.4 391.8 784.4 383.3 786.5 379.2M697.0 381.8 699.7 392.8 707.7 399.3 717.1 411.9M650.2 467.6 654.2 466.6 661.7 466.6 669.2 466.6 671.0 473.7 682.1 473.7 684.3 472.2 692.2 473.7 692.2 483.0 692.1 492.2 701.8 492.2 701.7 502.3 692.9 502.3 692.8 510.3 692.6 518.4 698.7 525.4M647.9 523.9 657.5 524.4 667.4 524.4 677.2 524.4 688.1 527.4 698.7 525.4 706.5 526.4M688.1 527.4 688.0 537.4 687.8 547.5 683.4 547.5 683.2 561.5 683.0 570.6 682.8 579.6 672.1 581.6 667.8 580.6M683.2 561.5 691.7 569.1 696.1 564.1 706.8 566.1 713.6 556.0 724.3 548.5 716.2 540.0 706.5 526.4 714.4 526.9 722.4 519.9 729.6 515.3M724.3 548.5 732.5 549.5 737.9 544.0 740.4 534.9 740.0 520.9 729.6 515.3 741.2 507.3 741.8 499.3 742.4 491.2 741.2 484.2 731.6 478.2M732.5 549.5 735.1 560.0 734.4 567.1 738.4 572.1M712.5 585.7 717.8 581.1 722.8 585.1 717.8 590.7 712.5 585.7M701.8 492.2 708.4 494.8 717.1 498.8 723.7 504.3 727.3 498.3 721.2 496.3 722.2 483.7 731.6 478.2 725.5 467.1 725.1 459.1 724.3 450.6 727.0 444.0 727.4 433.0 734.1 426.0 732.3 419.4M748.5 495.3 756.1 494.5 763.6 493.7 774.3 489.7M746.1 485.2 749.9 494.8 748.7 508.8 747.2 497.3 746.1 485.2M746.1 442.0 754.3 447.0 762.4 452.1 769.5 460.6M746.1 442.0 746.5 434.5 750.9 428.0 746.4 415.9M736.3 441.5 737.7 436.0 744.3 435.0 747.9 439.0 745.6 448.0 741.2 450.1 736.7 448.0 736.3 441.5M727.0 444.0 731.0 442.0 736.3 442.0M731.0 442.0 732.3 449.1 730.9 455.1 726.0 459.1M781.5 417.4 777.5 422.9 777.6 437.0 779.8 445.5M746.4 415.9 750.8 409.4 746.3 404.4 741.8 396.8 746.5 389.3 747.3 383.8 751.1 376.7 756.1 365.2 763.1 363.2 771.9 364.2 782.8 374.2M756.1 365.2 758.3 351.6 765.1 346.6M701.9 393.3 706.3 385.3 712.9 387.5 719.6 389.8 726.2 388.8 732.8 387.8 738.8 376.7 742.3 375.7 742.5 383.3 746.5 389.3" stroke="#bbd6e2" stroke-width="1"/></svg>
<div class="panel" id="pl"></div>
<div class="panel" id="pr"></div>
<div id="title" style="position:absolute;left:0;top:0;width:1040px;height:70px;transform:scaleY(1.075);transform-origin:0 51.7px">
<span class="w tt" style="left:8.75px;top:9.00px;letter-spacing:1.500px;color:#404040;font-size:42.67px;font-weight:bold;font-style:italic;line-height:56px">Global</span>
<span class="w tt" style="left:166.00px;top:9.00px;letter-spacing:0.611px;color:#1b3f52;font-size:42.67px;font-weight:bold;font-style:italic;line-height:56px">Healthcare</span>
<span class="w tt" style="left:404.00px;top:9.00px;letter-spacing:-0.889px;color:#1b3f52;font-size:42.67px;font-weight:bold;font-style:italic;line-height:56px">Biometrics</span>
<span class="w tt" style="left:626.50px;top:9.00px;letter-spacing:1.800px;color:#1b3f52;font-size:42.67px;font-weight:bold;font-style:italic;line-height:56px">Market</span>
<span class="w tt" style="left:787.00px;top:9.00px;letter-spacing:-1.333px;color:#404040;font-size:42.67px;font-weight:bold;font-style:italic;line-height:56px">2018</span>
<span class="w tt" style="left:893.00px;top:9.00px;letter-spacing:1.000px;color:#404040;font-size:42.67px;font-weight:bold;font-style:italic;line-height:56px">to</span>
<span class="w tt" style="left:947.00px;top:9.00px;letter-spacing:-1.667px;color:#404040;font-size:42.67px;font-weight:bold;font-style:italic;line-height:56px">2032</span>
</div>
<svg class="abs" id="logoicon" style="left:1038px;top:30px" width="40" height="40" viewBox="0 0 40 40">
<rect x="10.4" y="19.1" width="4.2" height="11" fill="#1fb0d4"/>
<rect x="16.8" y="14.2" width="4.3" height="17" fill="#1fb0d4"/>
<rect x="23.5" y="9.6" width="4.3" height="22" fill="#526d87"/>
<path d="M3.8 19 L3.8 33.4 L10.2 27.6 Z" fill="#526d87"/>
<circle cx="19.1" cy="19.3" r="13.2" fill="none" stroke="#526d87" stroke-width="4.3"/>
</svg>
<span class="w lg1" style="left:1077.20px;top:32.30px;letter-spacing:0.257px;color:#2cb5d1;font-size:18.8px;line-height:24px">Credence</span>
<span class="w lg1" style="left:1165.50px;top:32.30px;letter-spacing:0.286px;color:#5d6f7e;font-size:18.8px;line-height:24px">Research</span>
<span class="w lg2" style="left:1077.20px;top:55.30px;letter-spacing:3.156px;color:#59636e;font-size:6px;line-height:8px;font-weight:bold">Actionable</span>
<span class="w lg2" style="left:1142.10px;top:55.30px;letter-spacing:3.314px;color:#59636e;font-size:6px;line-height:8px;font-weight:bold">Insights</span>
<span class="w lg2" style="left:1193.80px;top:55.30px;letter-spacing:3.150px;color:#59636e;font-size:6px;line-height:8px;font-weight:bold">Delivered</span>
<span class="w lt1" style="left:150.20px;top:152.20px;letter-spacing:0.400px;color:#1a1a1a;font-size:17.5px;line-height:22px">Global</span>
<span class="w lt1" style="left:205.90px;top:152.20px;letter-spacing:-0.360px;color:#1a1a1a;font-size:17.5px;line-height:22px">Market</span>
<span class="w lt1" style="left:260.20px;top:152.20px;letter-spacing:-0.900px;color:#1a1a1a;font-size:17.5px;line-height:22px">Size,</span>
<span class="w lt1" style="left:302.10px;top:152.20px;letter-spacing:-1.400px;color:#1a1a1a;font-size:17.5px;line-height:22px">2018,</span>
<span class="w lt1" style="left:348.00px;top:152.20px;letter-spacing:-1.400px;color:#1a1a1a;font-size:17.5px;line-height:22px">2024,</span>
<span class="w lt1" style="left:392.90px;top:152.20px;letter-spacing:0.400px;color:#1a1a1a;font-size:17.5px;line-height:22px">and</span>
<span class="w lt1" style="left:428.50px;top:152.20px;letter-spacing:-1.000px;color:#1a1a1a;font-size:17.5px;line-height:22px">2032</span>
<span class="w lt2" style="left:243.20px;top:175.90px;letter-spacing:0.800px;color:#111;font-size:20.5px;line-height:24px;font-weight:bold">(USD</span>
<span class="w lt2" style="left:301.00px;top:175.90px;letter-spacing:-0.429px;color:#111;font-size:20.5px;line-height:24px;font-weight:bold">Million)</span>
<div class="box" style="left:34px;top:283px;width:537px;height:278px;"></div>
<div class="grid" style="top:533.5px"></div>
<span class="w" style="left:84px;top:526.5px;color:#595959;font-size:12.4px;line-height:14px">-</span>
<div class="grid" style="top:509.9px"></div>
<span class="w yl" style="left:52.40px;top:503.00px;letter-spacing:0.000px;color:#595959;font-size:12.4px;line-height:14px">2,000.0</span>
<div class="grid" style="top:486.3px"></div>
<span class="w yl" style="left:53.40px;top:479.40px;letter-spacing:-0.167px;color:#595959;font-size:12.4px;line-height:14px">4,000.0</span>
<div class="grid" style="top:462.7px"></div>
<span class="w yl" style="left:52.40px;top:455.80px;letter-spacing:0.000px;color:#595959;font-size:12.4px;line-height:14px">6,000.0</span>
<div class="grid" style="top:439.1px"></div>
<span class="w yl" style="left:52.40px;top:432.20px;letter-spacing:0.000px;color:#595959;font-size:12.4px;line-height:14px">8,000.0</span>
<div class="grid" style="top:415.5px"></div>
<span class="w yl" style="left:45.60px;top:408.60px;letter-spacing:-0.086px;color:#595959;font-size:12.4px;line-height:14px">10,000.0</span>
<div class="grid" style="top:391.9px"></div>
<span class="w yl" style="left:45.60px;top:385.00px;letter-spacing:-0.086px;color:#595959;font-size:12.4px;line-height:14px">12,000.0</span>
<div class="grid" style="top:368.3px"></div>
<span class="w yl" style="left:45.60px;top:361.40px;letter-spacing:-0.086px;color:#595959;font-size:12.4px;line-height:14px">14,000.0</span>
<div class="grid" style="top:344.7px"></div>
<span class="w yl" style="left:45.60px;top:337.80px;letter-spacing:-0.086px;color:#595959;font-size:12.4px;line-height:14px">16,000.0</span>
<div class="grid" style="top:321.1px"></div>
<span class="w yl" style="left:45.60px;top:314.20px;letter-spacing:-0.086px;color:#595959;font-size:12.4px;line-height:14px">18,000.0</span>
<div class="grid" style="top:297.5px"></div>
<span class="w yl" style="left:46.60px;top:290.60px;letter-spacing:-0.229px;color:#595959;font-size:12.4px;line-height:14px">20,000.0</span>
<div class="bar" style="left:145px;width:74px;top:509.4px;height:24.6px;background:#c09005"></div>
<span class="w dl" style="left:163.10px;top:489.90px;letter-spacing:-0.100px;color:#404040;font-size:12.3px;line-height:14px">2,085.4</span>
<span class="w xl" style="left:172.80px;top:541.10px;letter-spacing:0.733px;color:#404040;font-size:8.7px;line-height:10px">2018</span>
<div class="bar" style="left:295px;width:73px;top:463.3px;height:70.7px;background:#33a3a0"></div>
<span class="w dl" style="left:312.30px;top:443.80px;letter-spacing:0.033px;color:#404040;font-size:12.3px;line-height:14px">5,993.2</span>
<span class="w xl" style="left:322.30px;top:541.10px;letter-spacing:0.733px;color:#404040;font-size:8.7px;line-height:10px">2024</span>
<div class="bar" style="left:444px;width:74px;top:320.2px;height:213.8px;background:#0582b2"></div>
<span class="w dl" style="left:458.00px;top:300.70px;letter-spacing:0.286px;color:#404040;font-size:12.3px;line-height:14px">18,115.7</span>
<span class="w xl" style="left:471.80px;top:541.10px;letter-spacing:0.733px;color:#404040;font-size:8.7px;line-height:10px">2032</span>
<span class="w rt" style="left:870.90px;top:153.10px;letter-spacing:0.400px;color:#111;font-size:20.6px;line-height:24px;font-weight:bold">CAGR</span>
<span class="w rt" style="left:939.40px;top:153.10px;letter-spacing:1.400px;color:#111;font-size:20.6px;line-height:24px;font-weight:bold">by</span>
<span class="w rt" style="left:972.20px;top:153.10px;letter-spacing:-0.167px;color:#111;font-size:20.6px;line-height:24px;font-weight:bold">Region,</span>
<span class="w rt" style="left:1055.40px;top:153.10px;letter-spacing:2.600px;color:#111;font-size:20.6px;line-height:24px;font-weight:bold">%</span>
<div class="box" style="left:698px;top:278px;width:551px;height:273px;"></div>
<div class="bar" style="left:713px;width:392px;top:301.3px;height:20px;background:#5fd0f9"></div>
<span class="w hl" style="left:1113.60px;top:304.70px;letter-spacing:-0.450px;color:#484848;font-size:12.3px;line-height:14px">14.9%</span>
<div class="bar" style="left:713px;width:182px;top:336.3px;height:20px;background:#1a3c4c"></div>
<span class="w hl" style="left:903.60px;top:339.70px;letter-spacing:-0.450px;color:#484848;font-size:12.3px;line-height:14px">13.9%</span>
<div class="bar" style="left:713px;width:458px;top:372px;height:20px;background:#c09005"></div>
<span class="w hl" style="left:1179.60px;top:375.40px;letter-spacing:-0.450px;color:#484848;font-size:12.3px;line-height:14px">15.2%</span>
<div class="bar" style="left:713px;width:412px;top:407.2px;height:20px;background:#0582b2"></div>
<span class="w hl" style="left:1133.60px;top:410.60px;letter-spacing:-0.450px;color:#484848;font-size:12.3px;line-height:14px">15.0%</span>
<div class="bar" style="left:713px;width:278px;top:442.3px;height:20px;background:#33a3a0"></div>
<span class="w hl" style="left:999.60px;top:445.70px;letter-spacing:-0.450px;color:#484848;font-size:12.3px;line-height:14px">14.3%</span>
<div class="bar" style="left:713px;width:345px;top:477.8px;height:20px;background:#31789a"></div>
<span class="w hl" style="left:1066.60px;top:481.20px;letter-spacing:-0.450px;color:#484848;font-size:12.3px;line-height:14px">14.7%</span>
<div class="sq" style="left:736.3px;background:#31789a"></div>
<span class="w lg" style="left:744.60px;top:523.70px;letter-spacing:1.300px;color:#404040;font-size:11.8px;line-height:14px">North</span>
<span class="w lg" style="left:783.10px;top:523.70px;letter-spacing:0.533px;color:#404040;font-size:11.8px;line-height:14px">America</span>
<div class="sq" style="left:840.3px;background:#33a3a0"></div>
<span class="w lg" style="left:848.10px;top:523.70px;letter-spacing:0.760px;color:#404040;font-size:11.8px;line-height:14px">Europe</span>
<div class="sq" style="left:899.6px;background:#0582b2"></div>
<span class="w lg" style="left:909.00px;top:523.70px;letter-spacing:0.333px;color:#404040;font-size:11.8px;line-height:14px">Asia</span>
<span class="w lg" style="left:937.50px;top:523.70px;letter-spacing:0.500px;color:#404040;font-size:11.8px;line-height:14px">Pacific</span>
<div class="sq" style="left:985.8px;background:#c09005"></div>
<span class="w lg" style="left:994.80px;top:523.70px;letter-spacing:1.150px;color:#404040;font-size:11.8px;line-height:14px">Latin</span>
<span class="w lg" style="left:1029.50px;top:523.70px;letter-spacing:0.400px;color:#404040;font-size:11.8px;line-height:14px">America</span>
<div class="sq" style="left:1085.8px;background:#1a3c4c"></div>
<span class="w lg" style="left:1094.20px;top:523.70px;letter-spacing:1.080px;color:#404040;font-size:11.8px;line-height:14px">Middle</span>
<span class="w lg" style="left:1138.50px;top:523.70px;letter-spacing:0.000px;color:#404040;font-size:11.8px;line-height:14px">East</span>
<div class="sq" style="left:1171.7px;background:#5fd0f9"></div>
<span class="w lg" style="left:1179.80px;top:523.70px;letter-spacing:0.720px;color:#404040;font-size:11.8px;line-height:14px">Africa</span>
</body>
</html>
